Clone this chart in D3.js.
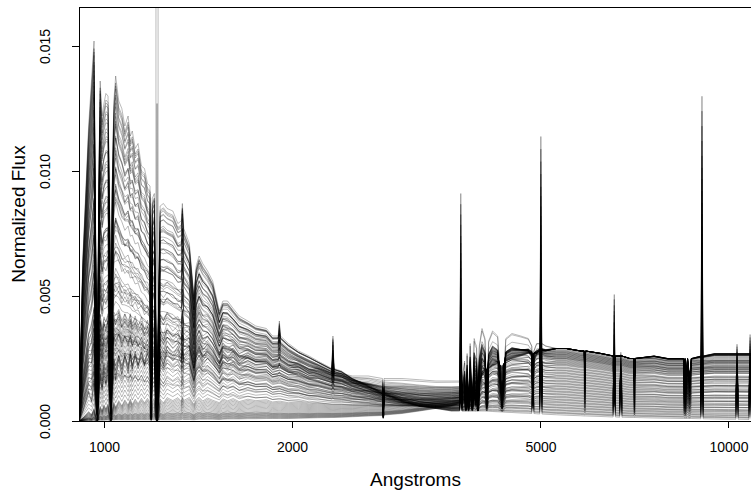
<!DOCTYPE html>
<html>
<head>
<meta charset="utf-8">
<title>spectra</title>
<style>
body { margin: 0; background: #fff; }
svg text { font-family: "Liberation Sans", Arial, sans-serif; fill: #000; }
.axis line { stroke: #000; shape-rendering: crispEdges; }
.axis path { display: none; }
.spec { fill: none; stroke: #000; stroke-opacity: 0.3; stroke-width: 0.9; }
</style>
</head>
<body>
<svg width="751" height="490"></svg>
<script src="https://d3js.org/d3.v7.min.js"></script>
<script>

// wavelength grid (Angstroms)
var wave = [
  912, 925, 945, 955, 964, 970, 976, 981, 986, 993,
  1000, 1007, 1015, 1021, 1026, 1031, 1037, 1044, 1056, 1068,
  1080, 1093, 1102, 1110, 1122, 1134, 1148, 1161, 1174, 1185,
  1190, 1195, 1204, 1211, 1216, 1221, 1230, 1245, 1262, 1289,
  1313, 1330, 1335, 1342, 1370, 1393, 1405, 1420, 1439, 1465,
  1493, 1530, 1550, 1577, 1610, 1646, 1700, 1750, 1820, 1862,
  1901, 1909, 1917, 1974, 2050, 2130, 2200, 2317, 2326, 2335,
  2400, 2500, 2650, 2792, 2800, 2808, 3000, 3200, 3400, 3600,
  3712, 3727, 3742, 3780, 3798, 3815, 3835, 3858, 3889, 3915,
  3934, 3950, 3970, 3990, 4030, 4075, 4102, 4130, 4190, 4270,
  4340, 4400, 4500, 4650, 4780, 4842, 4861, 4880, 4930, 4987,
  5007, 5027, 5100, 5300, 5500, 5800, 5875, 5890, 5905, 6250,
  6537, 6563, 6589, 6697, 6724, 6751, 6950, 7055, 7070, 7085,
  7600, 8000, 8470, 8498, 8520, 8542, 8600, 8662, 8720, 9033,
  9069, 9105, 9500, 10000, 10280, 10320, 10360, 10787, 10830, 10873, 10906
];

// young (hot) template
var young = [
  0, .0065, .0118, .0136, .0152, .0070, .0010, .0095, .0136, .0122,
  .0127, .0131, .0130, .0085, .0015, .0095, .0128, .0138, .0128, .0125,
  .0118, .0122, .0114, .0116, .0109, .0111, .0102, .0101, .0095, .0094,
  .0015, .0089, .0091, .0035, 0, .0035, .0086, .0087, .0085, .0084,
  .0079, .0080, .0087, .0077, .0071, .0050, .0062, .0066, .0063, .0060,
  .0056, .0044, .0048, .0048, .0045, .0042, .0040, .0038, .0037, .0034,
  .0034, .0034, .0034, .0031, .0028, .0026, .0024, .0021, .0021, .0021,
  .0020, .0017, .0014, .0011, .0004, .0011, .0008, .0006, .0005, .0004,
  .0004, .0004, .0004, .0004, .0004, .0004, .0004, .0004, .0004, .0004,
  .0004, .0004, .0004, .0004, .0004, .0004, .00039, .00039, .00038, .00037,
  .00036, .00035, .00034, .00032, .00031, .0003, .0003, .0003, .00029, .00028,
  .00028, .00028, .00027, .00025, .00023, .00021, .0002, .0002, .0002, .00018,
  .00016, .00016, .00016, .00015, .00015, .00015, .00014, .00014, .00014, .00014,
  .00012, .00011, .0001, .0001, .0001, .0001, .0001, .0001, .0001, .00009,
  .00009, .00009, .00008, .00007, .00007, .00007, .00007, .00006, .00006, .00006, .00006
];

// intermediate (balmer) template
var mid = [
  0, .0004, .0012, .0008, .0016, .0007, .0002, .0011, .0019, .0013,
  .0021, .0015, .0022, .0010, .0003, .0014, .0024, .0017, .0026, .0019,
  .0027, .0020, .0028, .0021, .0028, .0022, .0029, .0023, .0029, .0024,
  .0005, .0026, .0029, .0011, 0, .0011, .0028, .0023, .0030, .0026,
  .0030, .0025, .0031, .0026, .0030, .0021, .0027, .0030, .0025, .0029,
  .0026, .0023, .0028, .0025, .0028, .0024, .0027, .0025, .0026, .0023,
  .0024, .0024, .0024, .0022, .0023, .0020, .0021, .0019, .0019, .0019,
  .0019, .0018, .0018, .0017, .0008, .0017, .0017, .00165, .0016, .0016,
  .0016, .0016, .0016, .0024, .0005, .0027, .0005, .0031, .0005, .0033,
  .0031, .0030, .0004, .0030, .0037, .0033, .0005, .0032, .0036, .0034,
  .0005, .0033, .0035, .0034, .0033, .0030, .0005, .0028, .0031, .0031,
  .0031, .0031, .0030, .0029, .0029, .0028, .0028, .0024, .0028, .0027,
  .0026, .0006, .0026, .0026, .0026, .0026, .0025, .0025, .0018, .0025,
  .0025, .0024, .0024, .0019, .0024, .0018, .0024, .0019, .0024, .0024,
  .0024, .0024, .0024, .0024, .0024, .0024, .0024, .0024, .0024, .0024, .0024
];

// old (red) template
var old = [
  0, .00001, .00002, .00002, .00003, .00001, 0, .00003, .00003, .00003,
  .00003, .00004, .00004, .00002, 0, .00004, .00004, .00005, .00005, .00005,
  .00005, .00005, .00005, .00005, .00005, .00005, .00005, .00005, .00005, .00005,
  .00002, .00005, .00005, .00003, 0, .00003, .00005, .00005, .00005, .00005,
  .00005, .00006, .00007, .00006, .00006, .00005, .00006, .00007, .00007, .00007,
  .00007, .00006, .00007, .00008, .00008, .00008, .00009, .00009, .0001, .0001,
  .0001, .0001, .0001, .0001, .00011, .00012, .00013, .00014, .00014, .00014,
  .00015, .00017, .0002, .00022, .0001, .00024, .0003, .0004, .0005, .0006,
  .0007, .0007, .0007, .0008, .0008, .0009, .0009, .0010, .0010, .0011,
  .0006, .0011, .0005, .0014, .0018, .0020, .0021, .0021, .0022, .0023,
  .0022, .0024, .0025, .0026, .0027, .0027, .0026, .0027, .0027, .0028,
  .0028, .0028, .0028, .0029, .0029, .0028, .0028, .0019, .0028, .0027,
  .0026, .0026, .0026, .0026, .0026, .0026, .0025, .0025, .0016, .0025,
  .0026, .0025, .0025, .0016, .0025, .0014, .0025, .0015, .0025, .0026,
  .0026, .0026, .0027, .0027, .0027, .0027, .0027, .0027, .0027, .0027, .0027
];

// emission lines (peak above continuum)
var lineWave = [1909, 2326, 3727, 4861, 5007, 6563, 6724, 9069, 10320, 10830];
var lineFlux = [.0006, .0013, .0087, .0012, .0111, .0049, .0026, .0129, .0030, .0034];

// Lyman alpha emitters
var lyaLine = [3, 9];
var lyaFlux = [.3, .0127];

// mixing weights, one entry per plotted spectrum
var wYoung = [
  1.00, .98, .96, .94, .92, .90, .88, .86, .84, .82,
  .80, .78, .76, .74, .72, .70, .68, .66, .64, .62,
  .60, .58, .56, .54, .52, .50, .48, .46, .44, .42,
  .40, .38, .36, .34, .32, .30, .28, .26, .24, .22,
  0, 0, .18, .16, .15, .14, .13, .12, .11, .10,
  .09, .08, .07, .06, .05, .04, .03, .02, .01, 0,
  0, 0, 0, 0, 0, 0, 0, 0, 0, 0,
  0, 0, 0, 0, 0, 0, 0, 0, 0, 0,
  .97, .93, .89, .85, .81, .77, .73, .69, .65, .61,
  .57, .53, .49, .45, .41, .37, .33, .29, .25, .23,
  .21, .20, .19, .17, .15, .13, .11, .09, .07, .05
];
var wMid = [
  0, 0, .02, .04, .02, .09, .02, .07, .11, .05,
  .17, .03, .12, .18, .08, .26, .05, .17, .25, .11,
  .34, .06, .22, .32, .14, .43, .08, .27, .39, .17,
  .51, .09, .32, .46, .20, .60, .11, .37, .53, .23,
  1.0, .95, .80, .78, .75, .72, .69, .66, .63, .60,
  .57, .54, .51, .48, .45, .42, .39, .36, .33, .30,
  .28, .26, .24, .22, .20, .18, .16, .14, .12, .10,
  .09, .08, .07, .06, .05, .04, .03, .02, .01, 0,
  .01, .06, .02, .09, .08, .18, .05, .19, .14, .31,
  .09, .28, .20, .44, .12, .38, .27, .57, .15, .46,
  .32, .64, .16, .50, .34, .70, .18, .55, .37, .76
];
var wOld = [
  0, .02, .02, .02, .06, .01, .10, .07, .05, .13,
  .03, .19, .12, .08, .20, .04, .27, .17, .11, .27,
  .06, .36, .22, .14, .34, .07, .44, .27, .17, .41,
  .09, .53, .32, .20, .48, .10, .61, .37, .23, .55,
  0, .05, .02, .06, .10, .14, .18, .22, .26, .30,
  .34, .38, .42, .46, .50, .54, .58, .62, .66, .70,
  .72, .74, .76, .78, .80, .82, .84, .86, .88, .90,
  .91, .92, .93, .94, .95, .96, .97, .98, .99, 1.0,
  .02, .01, .09, .06, .11, .05, .22, .12, .21, .08,
  .34, .19, .31, .11, .47, .25, .40, .14, .60, .31,
  .47, .16, .65, .33, .51, .17, .71, .36, .56, .19
];
var wNeb = [
  1.0, .95, .90, .85, .80, .76, .72, .68, .64, .60,
  .56, .53, .50, .47, .44, .41, .38, .35, .32, .30,
  .28, .26, .24, .22, .20, .18, .16, .14, .12, .10,
  .09, .08, .07, .06, .05, .04, .03, .02, .01, 0,
  0, 0, 0, 0, 0, 0, 0, 0, 0, 0,
  0, 0, 0, 0, 0, 0, 0, 0, 0, 0,
  0, 0, 0, 0, 0, 0, 0, 0, 0, 0,
  0, 0, 0, 0, 0, 0, 0, 0, 0, 0,
  .50, .45, .40, .36, .32, .28, .25, .22, .19, .16,
  .14, .12, .10, .08, .06, .05, .04, .03, .02, .01,
  0, 0, 0, 0, 0, 0, 0, 0, 0, 0
];

var svg = d3.select("svg"),
    plotL = 79, plotR = 752, plotT = 7, plotB = 421;

var x = d3.scaleLog().domain([912, 10906]).range([plotL, plotR]);
var y = d3.scaleLinear().domain([0, 0.01656]).range([plotB, plotT]);

var neb = wave.map(function(w) {
  var k = lineWave.indexOf(w);
  return k < 0 ? 0 : lineFlux[k];
});

var spectra = wYoung.map(function(a, i) {
  var k = lyaLine.indexOf(i);
  return wave.map(function(w, j) {
    var v = a * young[j] + wMid[i] * mid[j] + wOld[i] * old[j] + wNeb[i] * neb[j];
    if (k >= 0 && w === 1216) v += lyaFlux[k];
    return v;
  });
});

svg.append("clipPath").attr("id", "clip")
  .append("rect").attr("x", plotL).attr("y", plotT)
  .attr("width", plotR - plotL).attr("height", plotB - plotT);

var line = d3.line()
    .x(function(d, j) { return x(wave[j]); })
    .y(function(d) { return y(d); });

svg.append("g").attr("clip-path", "url(#clip)")
  .selectAll("path")
  .data(spectra.slice().reverse())
  .enter().append("path")
    .attr("class", "spec")
    .attr("d", line);

// axes
var xAxis = svg.append("g")
    .attr("class", "axis")
    .attr("transform", "translate(0," + plotB + ")")
    .call(d3.axisBottom(x).tickValues([1000, 2000, 5000, 10000])
      .tickFormat(d3.format("d")).tickSize(7).tickPadding(14));
xAxis.selectAll("text").style("font-size", "14px");

var yAxis = svg.append("g")
    .attr("class", "axis")
    .attr("transform", "translate(" + plotL + ",0)")
    .call(d3.axisLeft(y).tickValues([0, 0.005, 0.010, 0.015])
      .tickFormat(d3.format(".3f")).tickSize(7));
yAxis.selectAll("text")
    .style("font-size", "14px")
    .attr("transform", "rotate(-90)")
    .attr("x", 0).attr("y", -29).attr("dy", 0)
    .style("text-anchor", "middle");

svg.append("rect")
    .attr("x", plotL).attr("y", plotT)
    .attr("width", plotR - plotL).attr("height", plotB - plotT)
    .attr("fill", "none").attr("stroke", "#000")
    .style("shape-rendering", "crispEdges");

svg.append("text")
    .attr("x", (plotL + plotR) / 2).attr("y", 486)
    .attr("text-anchor", "middle").style("font-size", "19px")
    .text("Angstroms");

svg.append("text")
    .attr("transform", "translate(25," + (plotT + plotB) / 2 + ") rotate(-90)")
    .attr("text-anchor", "middle").style("font-size", "19px")
    .text("Normalized Flux");

</script>
</body>
</html>
